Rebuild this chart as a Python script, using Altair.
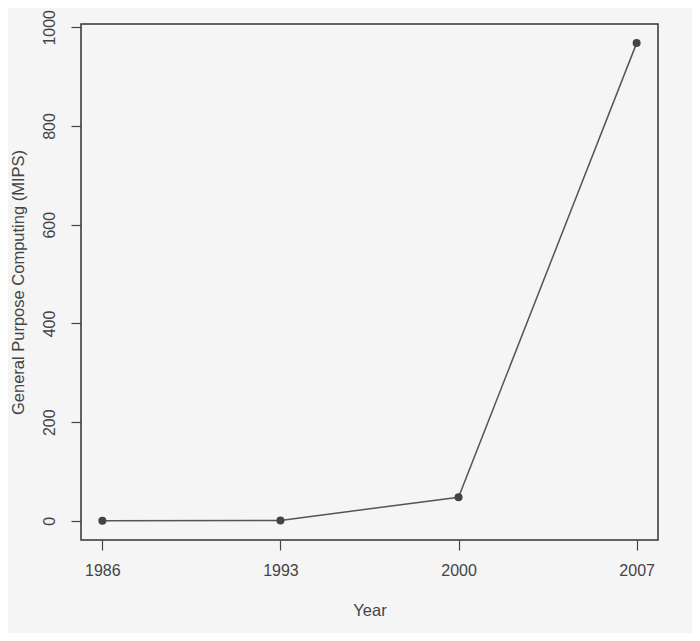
import altair as alt
import pandas as pd

years = [1986, 1993, 2000, 2007]
mips = [0.3, 1.0, 48, 968]
x_ticks = [1986, 1993, 2000, 2007]
y_ticks = [0, 200, 400, 600, 800, 1000]

df = pd.DataFrame({"Year": years, "MIPS": mips})

x = alt.X("Year:Q", title="Year",
          scale=alt.Scale(domain=[1985.16, 2007.84], nice=False, zero=False),
          axis=alt.Axis(values=x_ticks, format="d", grid=False, domain=False,
                        tickSize=10, tickColor="#444", tickWidth=1.2,
                        labelPadding=12, titlePadding=24))
y = alt.Y("MIPS:Q", title="General Purpose Computing (MIPS)",
          scale=alt.Scale(domain=[-38.7, 1006.7], nice=False, zero=False),
          axis=alt.Axis(values=y_ticks, format="d", grid=False, domain=False,
                        tickSize=10, tickColor="#444", tickWidth=1.2,
                        labelAngle=-90, labelAlign="center", labelBaseline="bottom",
                        labelPadding=14, titlePadding=15))

line = alt.Chart(df).mark_line(color="#555555", strokeWidth=1.5).encode(x=x, y=y)
pts = alt.Chart(df).mark_point(filled=True, color="#444444", size=64, opacity=1).encode(x=x, y=y)

chart = (line + pts).properties(
    width=577, height=516,
    background="#f5f5f5",
    padding={"left": 73, "top": 16, "right": 34, "bottom": 93},
    autosize=alt.AutoSizeParams(type="none"),
).configure_view(
    stroke="#333333", strokeWidth=1.5, fill="#f5f5f5"
).configure_axis(
    labelFont="Liberation Sans", titleFont="Liberation Sans",
    labelFontSize=16, titleFontSize=16.5, labelColor="#444444", titleColor="#444444",
    titleFontWeight="normal"
)

chart.save("out.html", embed_options={"renderer": "svg", "actions": False})
